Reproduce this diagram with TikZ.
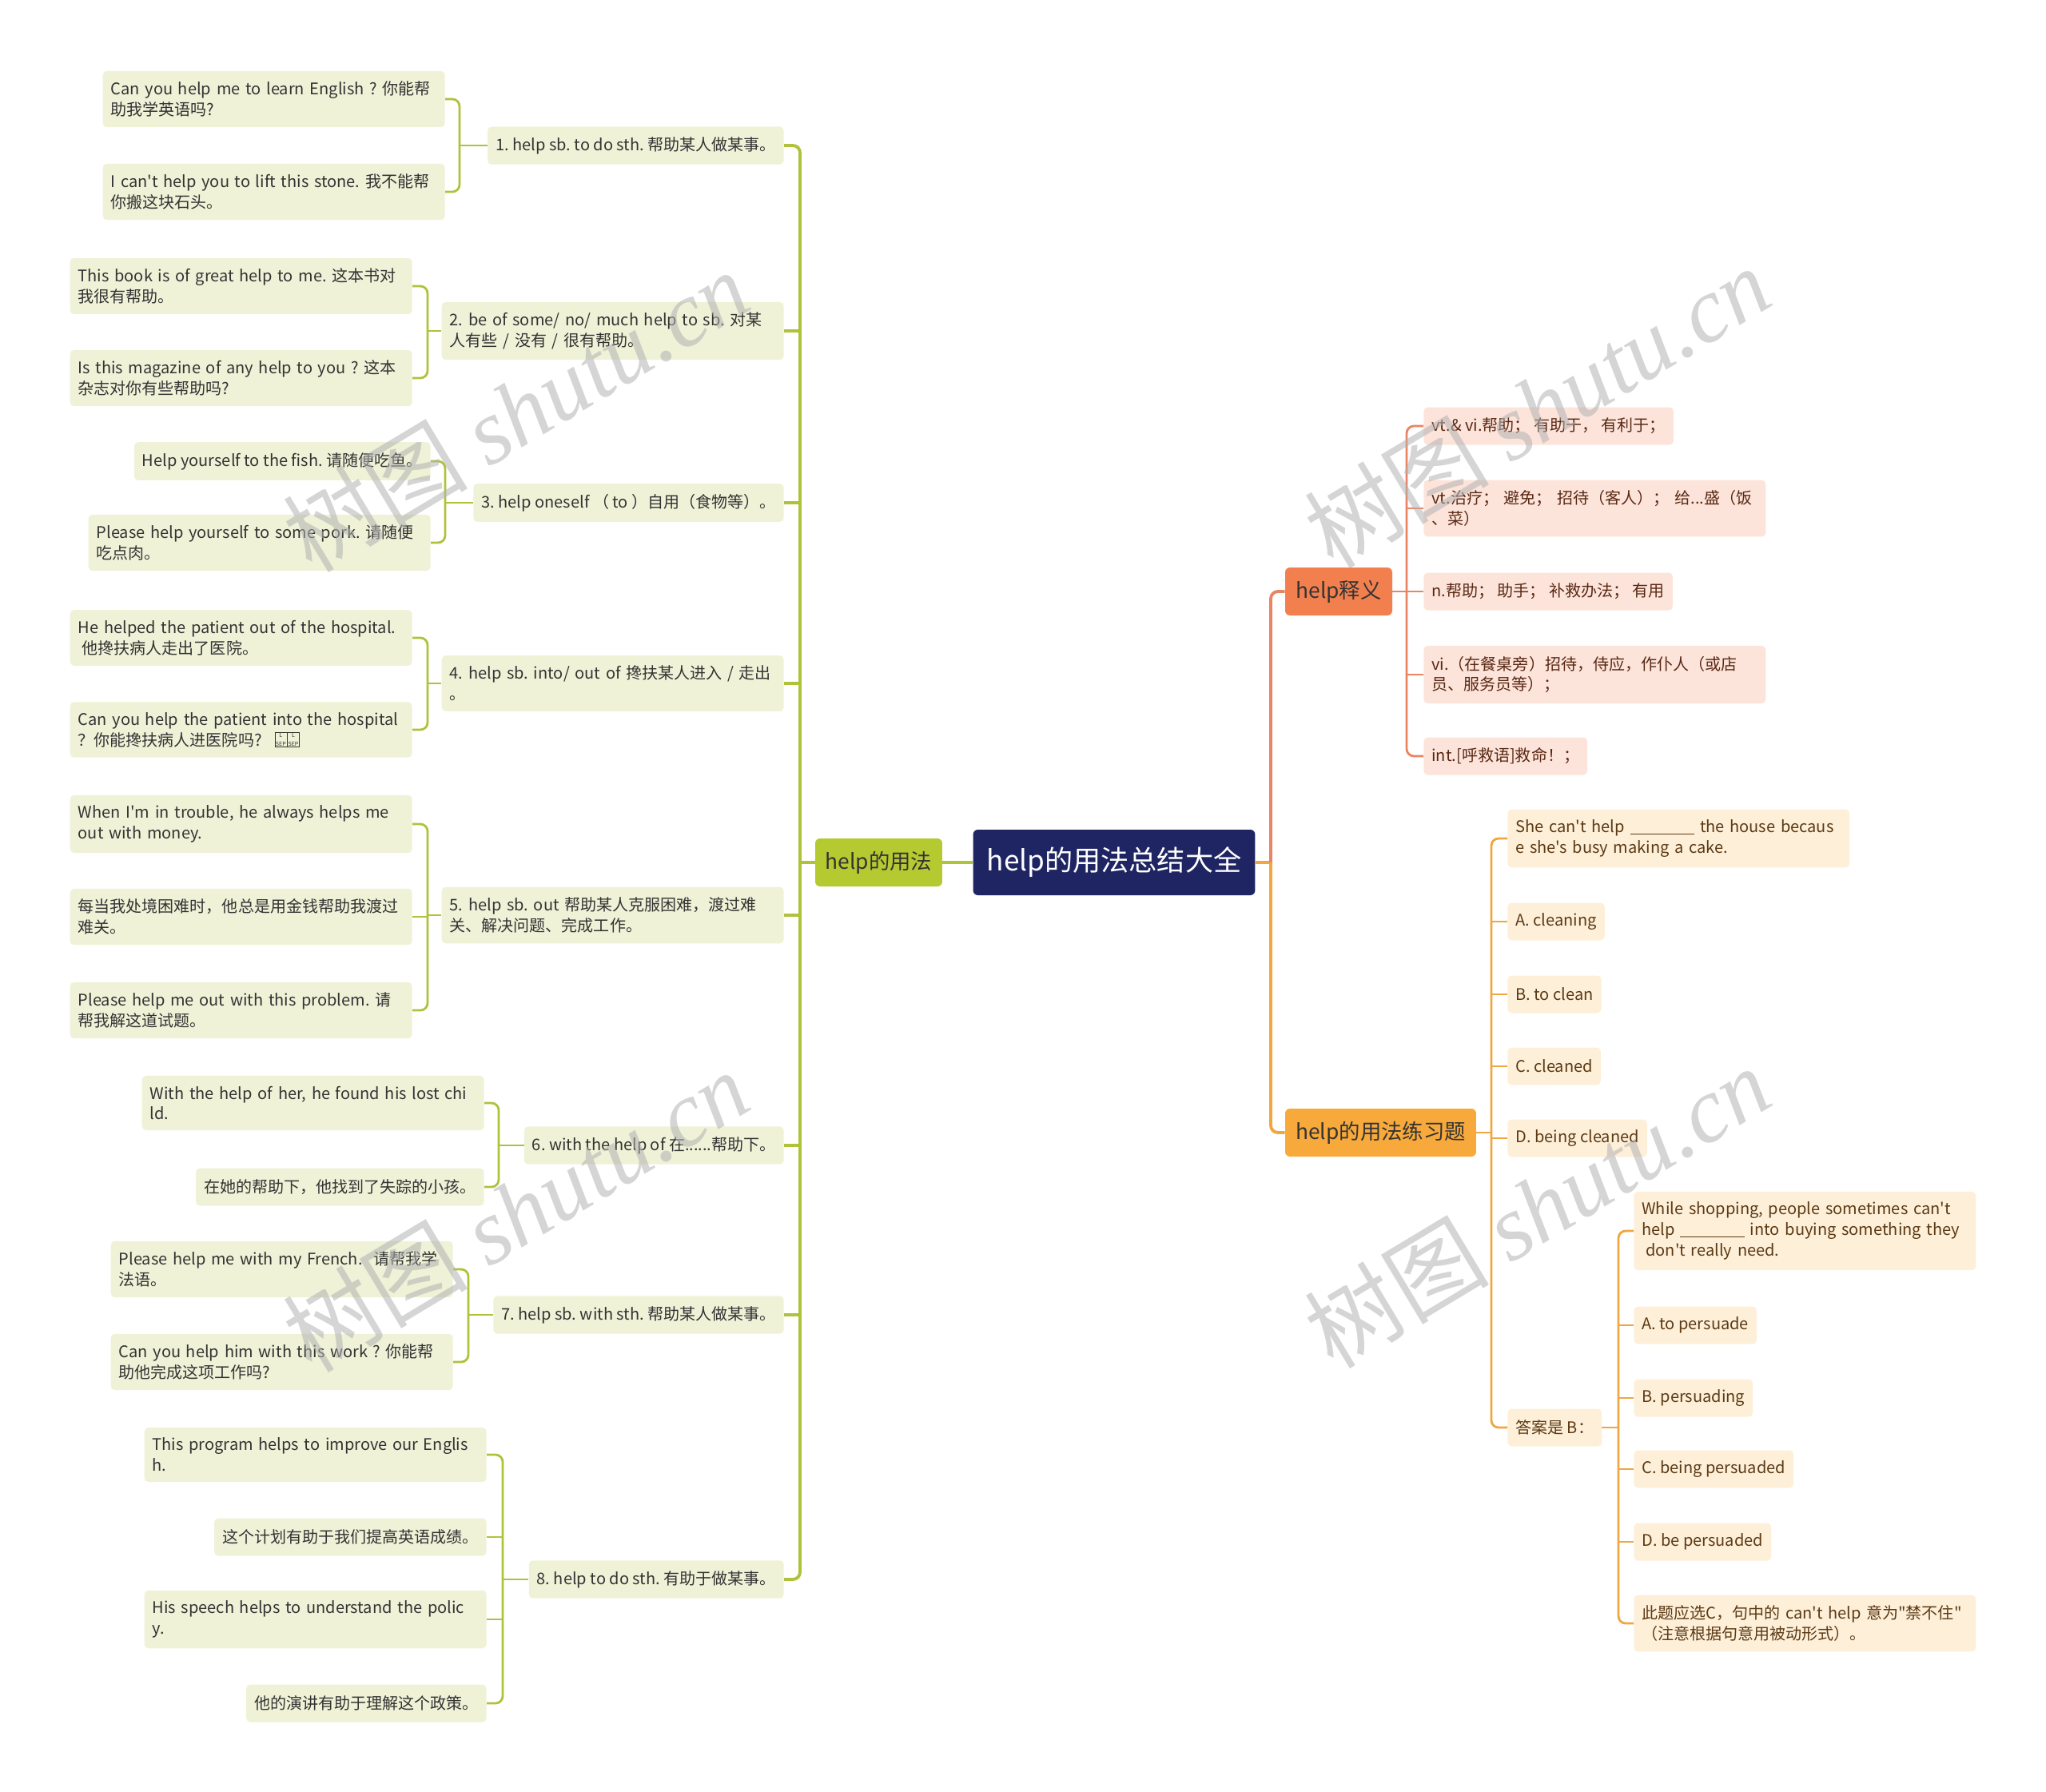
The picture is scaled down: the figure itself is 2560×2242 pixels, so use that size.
\documentclass[tikz,border=0pt]{standalone}
\usepackage{fontspec}
\setmainfont{Noto Sans CJK SC}[Ligatures=TeXOff]
\newfontfamily\wmserif{Liberation Serif}
\usetikzlibrary{positioning}
\frenchspacing
\hyphenpenalty=10000
\exhyphenpenalty=10000
\definecolor{rootblue}{HTML}{1F2563}
\definecolor{usegreen}{HTML}{B5C931}
\definecolor{greenline}{HTML}{B0C23A}
\definecolor{leafgreen}{HTML}{EFF2D7}
\definecolor{coral}{HTML}{F2804F}
\definecolor{coralline}{HTML}{E98563}
\definecolor{pinkfill}{HTML}{FCE4DA}
\definecolor{orange}{HTML}{F7A93B}
\definecolor{orangeline}{HTML}{F0A641}
\definecolor{peachfill}{HTML}{FEEFD9}
\colorlet{textdark}{black!80}
\definecolor{meantext}{HTML}{5A2814}
\definecolor{practext}{HTML}{5B3A14}
\newcommand{\leaffont}{\fontsize{11.4}{14.7}\selectfont}
\newcommand{\blank}{\rule[-0.12em]{46pt}{0.7pt}}
\newcommand{\sepmark}{{\setlength{\fboxsep}{0.5pt}\setlength{\fboxrule}{0.3pt}\fbox{\fontsize{4}{4.4}\selectfont\shortstack{L\\SEP}}}}
\tikzset{
  box/.style = {rounded corners=0.1cm, inner xsep=0.2cm, inner ysep=0.26cm,
    minimum height=0.94cm, font=\leaffont},
  usage/.style = {box, fill=leafgreen, text=textdark},
  meaning/.style = {box, fill=pinkfill, text=meantext},
  practice/.style = {box, fill=peachfill, text=practext},
  wide/.style = {text width=8.16cm, align=left},
  topic/.style = {rounded corners=0.12cm, font=\fontsize{15}{18}\selectfont,
    minimum height=1.2cm, text=textdark},
  trunk/.style = {line width=2.2pt, rounded corners=0.18cm},
  twig/.style = {line width=1.6pt, rounded corners=0.18cm},
  watermark/.style = {rotate=31, text=black!30, opacity=0.55,
    font=\fontsize{66}{66}\selectfont}
}

\begin{document}
\begin{tikzpicture}[x=0.02cm, y=-0.02cm]
  \useasboundingbox (0,0) rectangle (2560,2242);
  % centre and main topics
  \node[rounded corners=0.12cm, fill=rootblue, text=white, font=\fontsize{20}{24}\selectfont,
    minimum width=7.06cm, minimum height=1.64cm] (root) at (1394,1079) {help的用法总结大全};
  \node[topic, fill=usegreen, minimum width=3.18cm] (use) at (1099.5,1079) {help的用法};
  \node[topic, fill=coral, minimum width=2.68cm] (mean) at (1675,740) {help释义};
  \node[topic, fill=orange, minimum width=4.78cm] (prac) at (1727.5,1417) {help的用法练习题};
  % coordinates
  \coordinate (tl) at (1001,1079);
  \coordinate (tr) at (1590,1079);
  \coordinate (b1) at (575,182);
  \coordinate (b2) at (535,414);
  \coordinate (b3) at (557,629);
  \coordinate (b4) at (535,855);
  \coordinate (b5) at (535,1145);
  \coordinate (b6) at (624,1433);
  \coordinate (b7) at (586,1645);
  \coordinate (b8) at (629,1976);
  \coordinate (bm) at (1760,740);
  \coordinate (bp) at (1866,1417);
  \coordinate (ba) at (2025,1786);
  % usages
  \node[usage, anchor=east] (n1) at (981,182) {1. help sb. to do sth. 帮助某人做某事。};
  \node[usage, wide, anchor=east] (n2) at (981,414) {2. be of some/ no/ much help to sb. 对某\\人有些 / 没有 / 很有帮助。};
  \node[usage, anchor=east] (n3) at (981,629) {3. help oneself （ to ）自用（食物等）。};
  \node[usage, wide, anchor=east] (n4) at (981,855) {4. help sb. into/ out of 搀扶某人进入 / 走出\\。};
  \node[usage, wide, anchor=east] (n5) at (981,1145) {5. help sb. out 帮助某人克服困难，渡过难\\关、解决问题、完成工作。};
  \node[usage, anchor=east] (n6) at (981,1433) {6. with the help of 在......帮助下。};
  \node[usage, anchor=east] (n7) at (981,1645) {7. help sb. with sth. 帮助某人做某事。};
  \node[usage, anchor=east] (n8) at (981,1976) {8. help to do sth. 有助于做某事。};
  % examples
  \node[usage, wide, anchor=east] (l11) at (557,124) {Can you help me to learn English ? 你能帮\\助我学英语吗?};
  \node[usage, wide, anchor=east] (l12) at (557,240) {I can't help you to lift this stone. 我不能帮\\你搬这块石头。};
  \node[usage, wide, anchor=east] (l21) at (516,358) {This book is of great help to me. 这本书对\\我很有帮助。};
  \node[usage, wide, anchor=east] (l22) at (516,473) {Is this magazine of any help to you ? 这本\\杂志对你有些帮助吗?};
  \node[usage, anchor=east] (l31) at (539,577) {Help yourself to the fish. 请随便吃鱼。};
  \node[usage, wide, anchor=east] (l32) at (539,679) {Please help yourself to some pork. 请随便\\吃点肉。};
  \node[usage, wide, anchor=east] (l41) at (516,798) {He helped the patient out of the hospital.\\\hspace*{0.25em}他搀扶病人走出了医院。};
  \node[usage, wide, anchor=east] (l42) at (516,913) {Can you help the patient into the hospital\\？你能搀扶病人进医院吗?\hspace{0.8em}\sepmark\sepmark};
  \node[usage, wide, anchor=east] (l51) at (516,1031) {When I'm in trouble, he always helps me\\out with money.};
  \node[usage, wide, anchor=east] (l52) at (516,1147) {每当我处境困难时，他总是用金钱帮助我渡过\\难关。};
  \node[usage, wide, anchor=east] (l53) at (516,1264) {Please help me out with this problem. 请\\帮我解这道试题。};
  \node[usage, wide, anchor=east] (l61) at (606,1380) {With the help of her, he found his lost chi\\ld.};
  \node[usage, anchor=east] (l62) at (606,1485) {在她的帮助下，他找到了失踪的小孩。};
  \node[usage, wide, anchor=east] (l71) at (567,1588) {Please help me with my French.\ \ 请帮我学\\法语。};
  \node[usage, wide, anchor=east] (l72) at (567,1704) {Can you help him with this work ? 你能帮\\助他完成这项工作吗?};
  \node[usage, wide, anchor=east] (l81) at (609,1820) {This program helps to improve our Englis\\h.};
  \node[usage, anchor=east] (l82) at (609,1923) {这个计划有助于我们提高英语成绩。};
  \node[usage, wide, anchor=east] (l83) at (609,2026) {His speech helps to understand the polic\\y.};
  \node[usage, anchor=east] (l84) at (609,2131) {他的演讲有助于理解这个政策。};
  % meanings
  \node[meaning, anchor=west] (m1) at (1781,533) {vt.\& vi.帮助； 有助于， 有利于；};
  \node[meaning, wide, anchor=west] (m2) at (1781,636) {vt.治疗； 避免； 招待（客人）； 给...盛（饭\\、菜）};
  \node[meaning, anchor=west] (m3) at (1781,740) {n.帮助； 助手； 补救办法； 有用};
  \node[meaning, wide, anchor=west] (m4) at (1781,844) {vi.（在餐桌旁）招待，侍应，作仆人（或店\\员、服务员等）；};
  \node[meaning, anchor=west] (m5) at (1781,946) {int.[呼救语]救命！；};
  % exercises
  \node[practice, wide, anchor=west] (p1) at (1886,1049) {She can't help \blank{} the house becaus\\e she's busy making a cake.};
  \node[practice, anchor=west] (p2) at (1886,1153) {A. cleaning};
  \node[practice, anchor=west] (p3) at (1886,1244) {B. to clean};
  \node[practice, anchor=west] (p4) at (1886,1334) {C. cleaned};
  \node[practice, anchor=west] (p5) at (1886,1424) {D. being cleaned};
  \node[practice, anchor=west] (p6) at (1886,1786) {答案是 B：};
  \node[practice, wide, anchor=west] (a1) at (2044,1540) {While shopping, people sometimes can't\\help \blank{} into buying something they\\\hspace*{0.25em}don't really need.};
  \node[practice, anchor=west] (a2) at (2044,1658) {A. to persuade};
  \node[practice, anchor=west] (a3) at (2044,1749) {B. persuading};
  \node[practice, anchor=west] (a4) at (2044,1838) {C. being persuaded};
  \node[practice, anchor=west] (a5) at (2044,1929) {D. be persuaded};
  \node[practice, wide, anchor=west] (a6) at (2044,2031) {此题应选C，句中的 can't help 意为"禁不住"\\（注意根据句意用被动形式）。};
  % left connectors
  \draw[trunk, greenline] (use.east) -- (root.west);
  \draw[trunk, greenline] (tl) -- (use.west);
  \draw[trunk, greenline] (n1.east) -| (tl) |- (n8.east);
  \foreach \n in {n2,n3,n4,n5,n6,n7}
    \draw[trunk, greenline] (\n.east) -- (\n.east -| tl);
  \foreach \n/\b/\first/\last in {n1/b1/l11/l12, n2/b2/l21/l22, n3/b3/l31/l32, n4/b4/l41/l42,
      n5/b5/l51/l53, n6/b6/l61/l62, n7/b7/l71/l72, n8/b8/l81/l84} {
    \draw[twig, greenline] (\first.east) -| (\b) |- (\last.east);
    \draw[twig, greenline] (\b) -- (\n.west);
  }
  \foreach \l/\b in {l52/b5, l82/b8, l83/b8}
    \draw[twig, greenline] (\l.east) -- (\l.east -| \b);
  % right connectors
  \draw[trunk, orangeline] (root.east) -- (tr);
  \draw[trunk, coralline] (tr) |- (mean.west);
  \draw[trunk, orangeline] (tr) |- (prac.west);
  \draw[twig, coralline] (m1.west) -| (bm) |- (m5.west);
  \draw[twig, coralline] (mean.east) -- (bm);
  \foreach \m in {m2,m3,m4}
    \draw[twig, coralline] (\m.west) -- (\m.west -| bm);
  \draw[twig, orangeline] (p1.west) -| (bp) |- (p6.west);
  \draw[twig, orangeline] (prac.east) -- (bp);
  \foreach \p in {p2,p3,p4,p5}
    \draw[twig, orangeline] (\p.west) -- (\p.west -| bp);
  \draw[twig, orangeline] (a1.west) -| (ba) |- (a6.west);
  \draw[twig, orangeline] (p6.east) -- (ba);
  \foreach \a in {a2,a3,a4,a5}
    \draw[twig, orangeline] (\a.west) -- (\a.west -| ba);
  % watermarks
  \foreach \wx/\wy [count=\i] in {645/514, 645/1515, 1923/509, 1923/1510}
    \node[watermark] (wm\i) at (\wx,\wy) {树图 {\wmserif\itshape shutu.cn}};
\end{tikzpicture}
\end{document}
